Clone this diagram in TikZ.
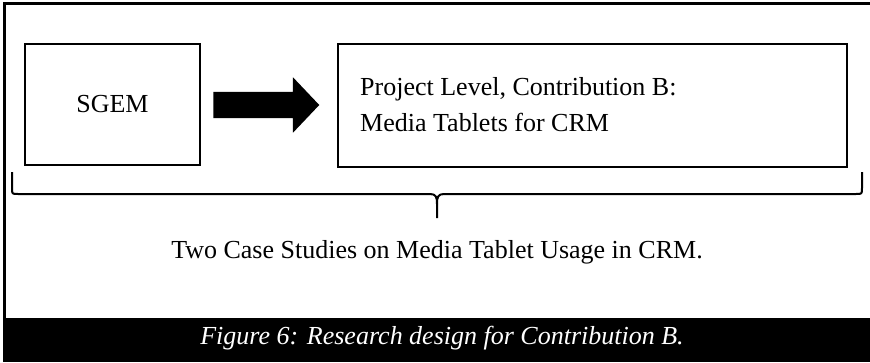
\documentclass[tikz,border=0pt]{standalone}
\usepackage{fontspec}
\setmainfont{Liberation Serif}
\usetikzlibrary{shapes.arrows}
\begin{document}
\begin{tikzpicture}[x=1pt,y=-1pt,
  box/.style={draw=black,line width=2pt,inner sep=0pt},
  label/.style={font=\fontsize{26}{36}\selectfont,inner sep=0pt},
  bigarrow/.style={single arrow,fill=black,draw=none,inner sep=0pt,
    text height=13pt,text depth=13pt,text width=0pt,
    minimum height=106pt,
    single arrow head extend=14.5pt,single arrow tip angle=93},
  bracepen/.style={line width=2pt,line join=round}]
  % page frame
  \useasboundingbox (0,0) rectangle (870,362);
  \fill[white] (0,0) rectangle (870,362);
  \draw[line width=3pt] (4.5,318) -- (4.5,3.5) -- (870,3.5);
  % caption band
  \fill[black] (3,318) rectangle (870,362);
  \node[font=\fontsize{26}{30}\selectfont\itshape,text=white,anchor=base,inner sep=0pt]
    (caption) at (442,344) {Figure 6: Research design for Contribution B.};
  % boxes
  \node[box,minimum width=175pt,minimum height=121pt] (sgem) at (112.5,104.5) {};
  \node[label] at (sgem.center) {SGEM};
  \node[box,minimum width=509pt,minimum height=123pt] (project) at (592.5,105.5) {};
  \node[label,anchor=base west] (pline1) at (360,95) {Project Level, Contribution B:};
  \node[label,anchor=base west] (pline2) at (360,131) {Media Tablets for CRM};
  % block arrow between the boxes
  \node[bigarrow] (arr) at (260,105) {};
  % brace under both boxes
  \coordinate (bl) at (12,172);
  \coordinate (br) at (862,172);
  \coordinate (tip) at (437,218);
  \draw[bracepen] (bl) -- (12,188) .. controls (12,194) .. (18,194)
    -- (430,194) .. controls (436,194) and (437,197) .. (437,204) -- (tip);
  \draw[bracepen] (br) -- (862,188) .. controls (862,194) .. (856,194)
    -- (444,194) .. controls (438,194) and (437,197) .. (437,204);
  % summary line
  \node[label,anchor=base] (summary) at (437,258)
    {Two Case Studies on Media Tablet Usage in CRM.};
\end{tikzpicture}
\end{document}
